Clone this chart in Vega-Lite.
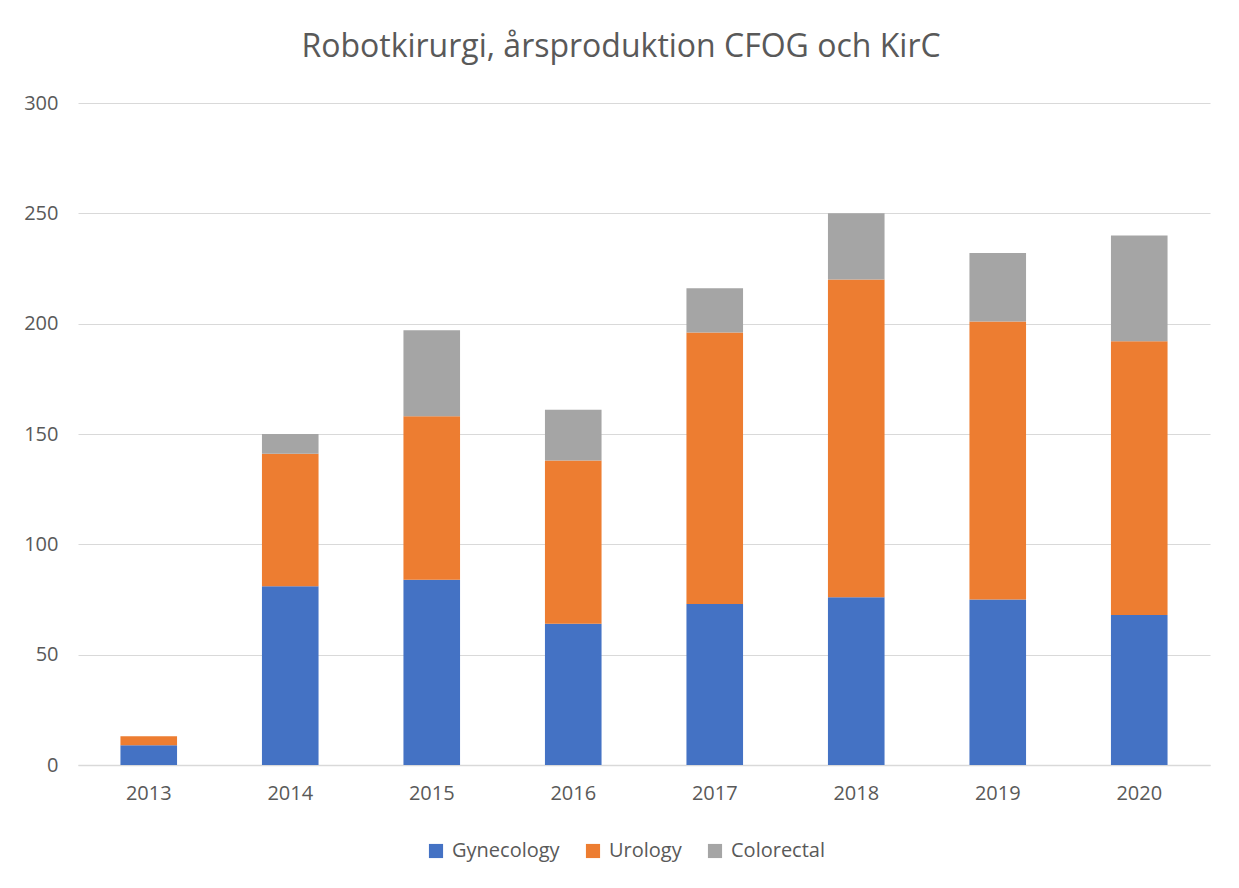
{
  "$schema": "https://vega.github.io/schema/vega-lite/v6.json",
  "autosize": "none",
  "width": 1132,
  "height": 662,
  "padding": {"left": 78, "top": 103, "right": 29, "bottom": 123},
  "background": "white",
  "title": {
    "text": "Robotkirurgi, årsproduktion CFOG och KirC",
    "font": "Open Sans",
    "fontSize": 32,
    "fontWeight": "normal",
    "color": "#595959",
    "anchor": "middle",
    "offset": 29,
    "dx": -23
  },
  "config": {
    "view": {"stroke": null},
    "font": "Open Sans"
  },
  "data": {
    "values": [
      {"year": "2013", "category": "Gynecology", "ord": 1, "value": 9},
      {"year": "2013", "category": "Urology", "ord": 2, "value": 4},
      {"year": "2013", "category": "Colorectal", "ord": 3, "value": 0},
      {"year": "2014", "category": "Gynecology", "ord": 1, "value": 81},
      {"year": "2014", "category": "Urology", "ord": 2, "value": 60},
      {"year": "2014", "category": "Colorectal", "ord": 3, "value": 9},
      {"year": "2015", "category": "Gynecology", "ord": 1, "value": 84},
      {"year": "2015", "category": "Urology", "ord": 2, "value": 74},
      {"year": "2015", "category": "Colorectal", "ord": 3, "value": 39},
      {"year": "2016", "category": "Gynecology", "ord": 1, "value": 64},
      {"year": "2016", "category": "Urology", "ord": 2, "value": 74},
      {"year": "2016", "category": "Colorectal", "ord": 3, "value": 23},
      {"year": "2017", "category": "Gynecology", "ord": 1, "value": 73},
      {"year": "2017", "category": "Urology", "ord": 2, "value": 123},
      {"year": "2017", "category": "Colorectal", "ord": 3, "value": 20},
      {"year": "2018", "category": "Gynecology", "ord": 1, "value": 76},
      {"year": "2018", "category": "Urology", "ord": 2, "value": 144},
      {"year": "2018", "category": "Colorectal", "ord": 3, "value": 30},
      {"year": "2019", "category": "Gynecology", "ord": 1, "value": 75},
      {"year": "2019", "category": "Urology", "ord": 2, "value": 126},
      {"year": "2019", "category": "Colorectal", "ord": 3, "value": 31},
      {"year": "2020", "category": "Gynecology", "ord": 1, "value": 68},
      {"year": "2020", "category": "Urology", "ord": 2, "value": 124},
      {"year": "2020", "category": "Colorectal", "ord": 3, "value": 48}
    ]
  },
  "mark": {"type": "bar"},
  "encoding": {
    "x": {
      "field": "year",
      "type": "nominal",
      "scale": {"paddingInner": 0.6, "paddingOuter": 0.3},
      "axis": {
        "title": null,
        "labelAngle": 0,
        "labelFontSize": 20,
        "labelColor": "#595959",
        "labelPadding": 18,
        "ticks": false,
        "domainColor": "#D9D9D9",
        "domainWidth": 1.5,
        "grid": false
      }
    },
    "y": {
      "field": "value",
      "type": "quantitative",
      "stack": "zero",
      "scale": {"domain": [0, 300], "nice": false},
      "axis": {
        "title": null,
        "values": [0, 50, 100, 150, 200, 250, 300],
        "labelFontSize": 20,
        "labelColor": "#595959",
        "labelPadding": 20,
        "ticks": false,
        "domain": false,
        "gridColor": "#D9D9D9",
        "gridWidth": 1.2
      }
    },
    "color": {
      "field": "category",
      "type": "nominal",
      "scale": {
        "domain": ["Gynecology", "Urology", "Colorectal"],
        "range": ["#4472C4", "#ED7D31", "#A5A5A5"]
      },
      "legend": {
        "title": null,
        "orient": "none",
        "legendX": 348,
        "legendY": 738,
        "direction": "horizontal",
        "symbolType": "square",
        "symbolSize": 200,
        "symbolStrokeWidth": 0,
        "labelFontSize": 20,
        "labelColor": "#595959",
        "columnPadding": 23,
        "labelOffset": 6
      }
    },
    "order": {"field": "ord", "type": "quantitative"}
  }
}
